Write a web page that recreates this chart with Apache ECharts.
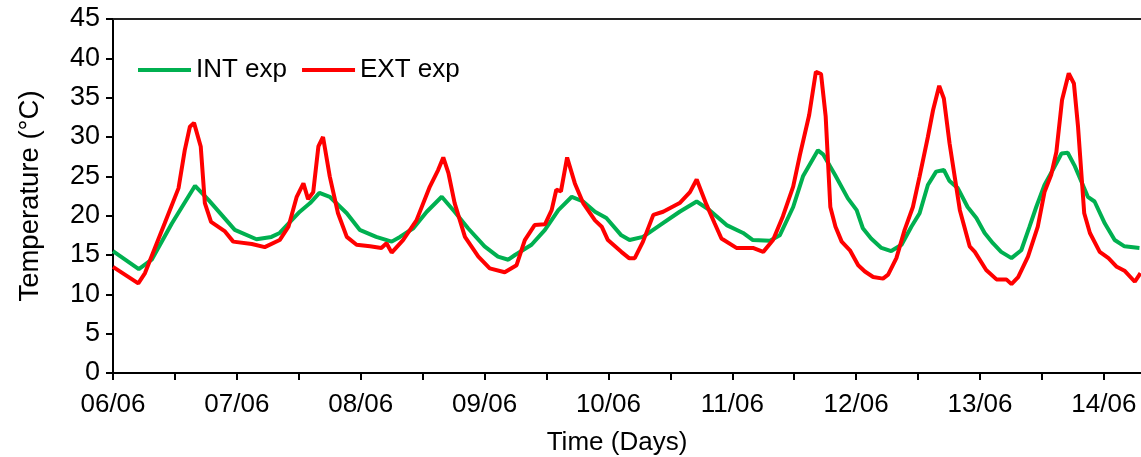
<!DOCTYPE html>
<html>
<head>
<meta charset="utf-8">
<script src="https://cdn.jsdelivr.net/npm/echarts@6/dist/echarts.min.js"></script>
<style>
html,body{margin:0;padding:0;background:#fff;}
#chart{width:1141px;height:457px;}
</style>
</head>
<body>
<div id="chart"></div>
<script>
// Day tick labels (one per 24 h)
const dayLabels = ['06/06','07/06','08/06','09/06','10/06','11/06','12/06','13/06','14/06'];
const yTicks = [0,5,10,15,20,25,30,35,40,45];

// INT exp: time (hours from 06/06 00:00) and temperature (°C)
const intHours = [0,5,7.5,11.4,15.9,18.5,23.6,27.8,30.7,32.3,36.2,38.2,40,42,45.3,47.8,51,54,55.6,58.2,60.8,63.7,66.2,68.8,72,74.6,76.6,77.9,81.1,83.7,86.3,88.9,91.1,93.4,95.6,98.5,100.1,102.7,106,109.8,113.1,115.6,118.9,122.1,124,127.3,129.2,131.8,133.7,136.6,137.6,139.9,142.4,144.1,145.3,146.9,148.9,150.8,152.8,154.7,156.3,157.9,159.5,161,162.1,163.7,165.6,167.3,168.9,170.5,172.1,174.1,176,177.6,178.9,180.5,182.1,183.8,185,186.3,188.9,190.2,192.2,194.1,196,198.9];
const intTemps = [15.5,13.2,14.4,19.0,23.8,22.0,18.2,17.0,17.3,17.8,20.5,21.6,22.9,22.4,20.3,18.2,17.3,16.7,17.3,18.4,20.5,22.4,20.5,18.4,16.1,14.8,14.4,15.0,16.3,18.2,20.7,22.4,21.8,20.5,19.7,17.5,16.9,17.3,18.8,20.5,21.8,20.7,18.8,17.8,16.9,16.8,17.5,21.1,25.0,28.3,27.8,25.2,22.2,20.7,18.4,17.1,15.9,15.5,16.3,18.6,20.3,23.9,25.6,25.8,24.4,23.5,21.1,19.7,17.8,16.5,15.4,14.6,15.6,18.6,21.1,23.9,25.8,27.9,28.0,26.4,22.4,21.8,19.0,16.9,16.1,15.9];

// EXT exp
const extHours = [0,4.9,6.2,10,12.7,13.9,14.9,15.7,17,17.8,19,21.7,23.3,26.9,29.4,32.3,34,35.6,36.9,37.8,38.8,39.8,40.7,42,43.6,45.3,47.2,49.8,52,53,54,56.2,58.8,61.4,63,64,65,66.2,68.2,70.8,73,75.9,78.2,79.8,81.7,83.7,85,85.9,86.8,88,89.5,91.1,93.4,94.7,95.9,98.5,100,101.1,102.7,104.7,106.6,109.8,111.8,113.1,115,116.6,117.9,120.8,124,126,127.9,129.8,131.8,133.1,134.9,136.2,137.2,138.1,139,140,141.2,142.8,144.4,145.7,147.3,149.2,150.2,151.8,153.4,155,156.3,157.9,158.9,160.1,161,162.1,164.1,166,167,169.2,171.2,173.1,174.1,175.4,177.3,179.2,180.5,181.8,182.8,183.9,185.2,186.2,187,188.2,189.3,191.2,192.9,194.5,196,198,199.1];
const extTemps = [13.5,11.4,12.7,19.0,23.5,28.3,31.3,31.8,28.8,21.6,19.2,18.0,16.7,16.4,16.0,16.9,18.6,22.4,24.1,22.1,23.0,28.8,30.0,25.0,20.3,17.3,16.3,16.1,15.9,16.5,15.3,16.9,19.4,23.7,25.8,27.4,25.4,21.6,17.3,14.8,13.3,12.8,13.7,16.9,18.8,18.9,20.7,23.3,23.1,27.4,24.1,21.6,19.4,18.6,16.9,15.4,14.6,14.6,16.7,20.1,20.5,21.6,23.0,24.6,21.4,19.0,17.1,15.9,15.9,15.4,16.9,19.9,23.7,27.7,32.8,38.3,38.0,32.6,21.1,18.6,16.7,15.6,13.7,12.9,12.2,12.0,12.5,14.6,18.2,21.1,25.0,30.0,33.4,36.5,34.9,29.2,20.7,16.1,15.4,13.1,11.9,11.9,11.3,12.2,14.8,18.6,23.0,25.2,28.1,34.7,38.1,36.8,31.3,20.3,17.8,15.4,14.6,13.5,13.0,11.6,12.7];

const font = '"Liberation Sans", Arial, sans-serif';
const chart = echarts.init(document.getElementById('chart'), null, {renderer: 'canvas'});
const xMax = 199.2;
const axisBase = {
  type: 'value', min: 0, max: xMax, interval: 12
};
chart.setOption({
  animation: false,
  backgroundColor: '#fff',
  grid: {left: 113, right: 0, top: 19, bottom: 84, containLabel: false, outerBoundsMode: 'none'},
  legend: {
    left: 138, top: 57, padding: 0, orient: 'horizontal',
    icon: 'rect', itemWidth: 53, itemHeight: 4, itemGap: 15,
    textStyle: {fontFamily: font, fontSize: 26, color: '#000'},
    data: ['INT exp', 'EXT exp']
  },
  xAxis: [Object.assign({}, axisBase, {
    position: 'bottom',
    name: 'Time (Days)', nameLocation: 'middle', nameGap: 57,
    nameTextStyle: {fontFamily: font, fontSize: 26, color: '#000', padding: [0, 20, 0, 0]},
    axisLine: {show: true, onZero: false, lineStyle: {color: '#000', width: 2}},
    axisTick: {show: true, inside: false, length: 7, lineStyle: {color: '#000', width: 2}},
    axisLabel: {
      margin: 19, fontFamily: font, fontSize: 26, color: '#000',
      showMaxLabel: false,
      formatter: v => (v % 24 === 0 && dayLabels[v / 24] !== undefined) ? dayLabels[v / 24] : ''
    },
    splitLine: {show: false}
  }), Object.assign({}, axisBase, {
    position: 'top',
    axisLine: {show: true, onZero: false, lineStyle: {color: '#222', width: 2}},
    axisTick: {show: false}, axisLabel: {show: false}, splitLine: {show: false}
  })],
  yAxis: {
    type: 'value', min: yTicks[0], max: yTicks[yTicks.length - 1], interval: 5,
    name: 'Temperature (°C)', nameLocation: 'middle', nameGap: 69, nameRotate: 90,
    nameTextStyle: {fontFamily: font, fontSize: 27.5, color: '#000'},
    axisLine: {show: true, lineStyle: {color: '#000', width: 2}},
    axisTick: {show: true, inside: false, length: 7, lineStyle: {color: '#000', width: 2}},
    axisLabel: {margin: 13, fontFamily: font, fontSize: 27, color: '#000'},
    splitLine: {show: false}
  },
  series: [
    {
      name: 'INT exp', type: 'line', xAxisIndex: 0, symbol: 'none',
      lineStyle: {color: '#00B050', width: 4}, itemStyle: {color: '#00B050'},
      data: intHours.map((h, i) => [h, intTemps[i]])
    },
    {
      name: 'EXT exp', type: 'line', xAxisIndex: 0, symbol: 'none',
      lineStyle: {color: '#FF0000', width: 4}, itemStyle: {color: '#FF0000'},
      data: extHours.map((h, i) => [h, extTemps[i]])
    }
  ]
});
</script>
</body>
</html>
